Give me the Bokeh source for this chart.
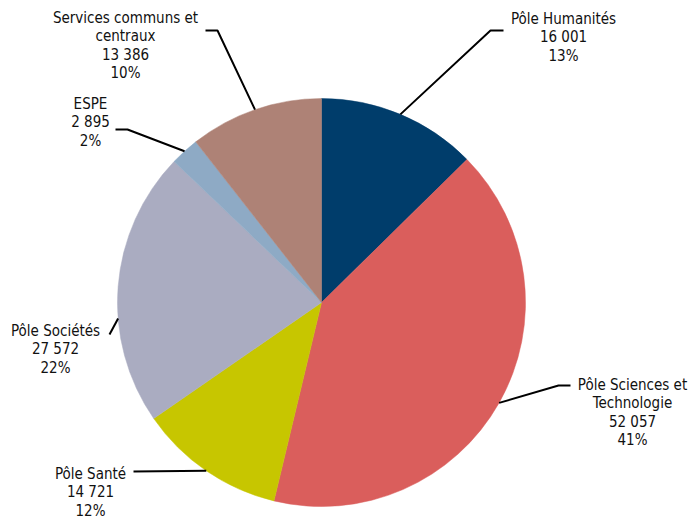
import math
from bokeh.plotting import figure
from bokeh.models import Range1d, ColumnDataSource
from bokeh.core.properties import value
from bokeh.embed import file_html
from bokeh.resources import INLINE

# ---- data ----
categories = ["Pôle Humanités", "Pôle Sciences et\nTechnologie", "Pôle Santé",
              "Pôle Sociétés", "ESPE", "Services communs et\ncentraux"]
amounts = [16001, 52057, 14721, 27572, 2895, 13386]
amount_labels = ["16 001", "52 057", "14 721", "27 572", "2 895", "13 386"]
pct_labels = ["13%", "41%", "12%", "22%", "2%", "10%"]
colors = ["#003D6B", "#DA5E5C", "#C7C600", "#AAACC1", "#8EAAC5", "#AE8276"]

# ---- layout (image pixel coordinates, y downward) ----
W, H = 693, 522
CX, CY, R = 321, 302, 204
label_pos = [(563, 18), (632, 384), (90, 473), (55, 330), (90, 103), (125, 17)]
anchor_offset = [0, 0, 0, 9, 0, 0]
elbows = [[(490, 30), (503, 30)],
          [(558, 385), (570, 385)],
          [(133, 471)],
          [(109, 334)],
          [(127, 129), (115, 129)],
          [(217, 30), (205, 30)]]
LINE_H = 18.5

def fy(y):
    return H - y

p = figure(width=W, height=H, output_backend="svg", toolbar_location=None,
           x_range=Range1d(0, W), y_range=Range1d(0, H),
           min_border=0, outline_line_color=None)
p.axis.visible = False
p.grid.visible = False
p.background_fill_color = "white"
p.border_fill_color = "white"

total = sum(amounts)
starts, ends, mids = [], [], []
cum = 0.0
for a in amounts:
    s = math.pi / 2 - 2 * math.pi * cum / total
    cum += a
    e = math.pi / 2 - 2 * math.pi * cum / total
    starts.append(s)
    ends.append(e)
    mids.append((s + e) / 2)

src = ColumnDataSource(dict(start=starts, end=ends, color=colors))
p.wedge(x=CX, y=fy(CY), radius=R, start_angle="end", end_angle="start",
        fill_color="color", line_color="color", line_width=0.5, source=src)

for i, m in enumerate(mids):
    ang = m + math.radians(anchor_offset[i])
    sx = CX + R * math.cos(ang)
    sy = CY - R * math.sin(ang)
    xs = [sx] + [pt[0] for pt in elbows[i]]
    ys = [fy(sy)] + [fy(pt[1]) for pt in elbows[i]]
    p.line(xs, ys, line_color="black", line_width=2)

tx, ty, tt = [], [], []
for i, cat in enumerate(categories):
    lines = cat.split("\n") + [amount_labels[i], pct_labels[i]]
    x0, y0 = label_pos[i]
    for j, ln in enumerate(lines):
        tx.append(x0)
        ty.append(fy(y0 + j * LINE_H))
        tt.append(ln)
p.text(x=tx, y=ty, text=tt, text_align="center", text_baseline="middle",
       text_font=value("DejaVu Sans Condensed"), text_font_size="15px",
       text_color="#111111")

open("out.html", "w").write(file_html(p, INLINE))
